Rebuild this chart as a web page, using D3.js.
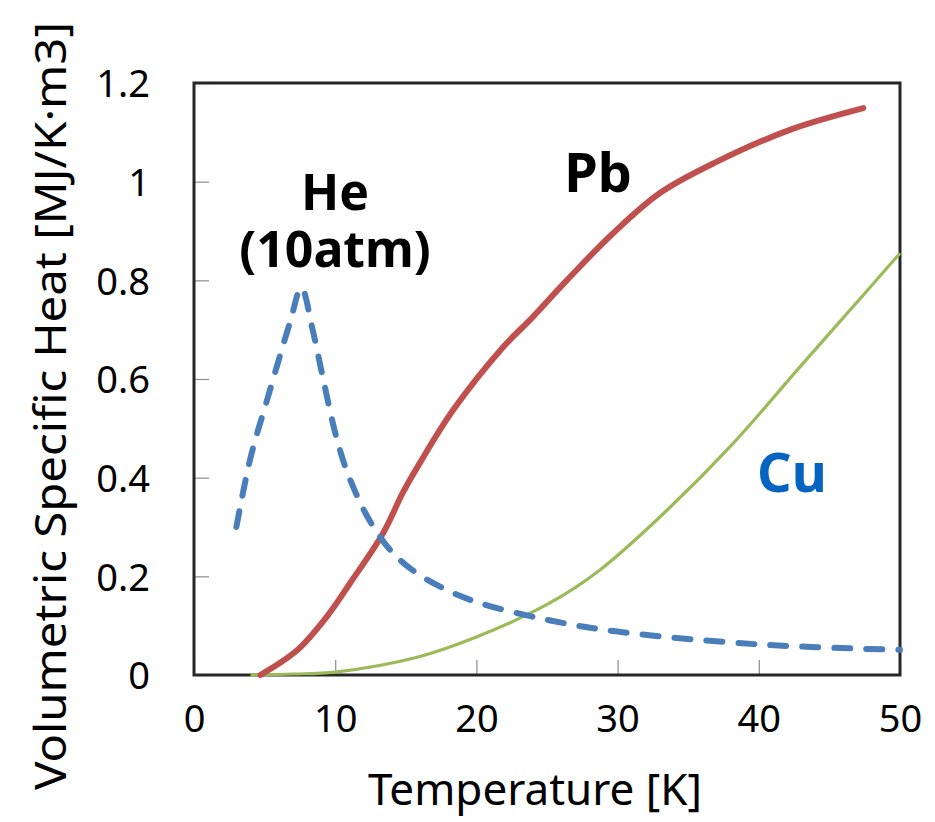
<!DOCTYPE html>
<html>
<head>
<meta charset="utf-8">
<script src="https://cdn.jsdelivr.net/npm/d3@7"></script>
<style>
  body { margin: 0; background: #fff; }
  text { font-family: "Noto Sans", "Open Sans", sans-serif; }
</style>
</head>
<body>
<div class="canvas"></div>
<script>
// values
const heT = [3.0, 4.0, 5.2, 6.8, 7.6, 8.4, 9.15, 10.1, 11.0, 12.5, 14.0, 15.5, 17.5, 20, 25, 30, 40, 50];
const heV = [0.30, 0.44, 0.56, 0.715, 0.785, 0.70, 0.60, 0.48, 0.40, 0.31, 0.25, 0.212, 0.178, 0.148, 0.112, 0.088, 0.062, 0.051];

const pbT = [4.7, 7.3, 9.4, 11.05, 13.4, 14.8, 16, 18.35, 21.9, 23.8, 26.4, 29.7, 33, 37, 42.2, 47.4];
const pbV = [0, 0.05, 0.118, 0.186, 0.288, 0.37, 0.43, 0.537, 0.665, 0.72, 0.80, 0.896, 0.977, 1.04, 1.105, 1.149];

const cuT = [4, 7, 10, 15.8, 20, 25.2, 28.75, 33.5, 38.2, 42.9, 47.7, 50];
const cuV = [0, 0.002, 0.006, 0.036, 0.077, 0.146, 0.213, 0.334, 0.47, 0.624, 0.78, 0.855];

const xTicks = [0, 10, 20, 30, 40, 50];
const yTicks = [0, 0.2, 0.4, 0.6, 0.8, 1, 1.2];

const width = 935;
const height = 822;
const margin = {left: 194, top: 83, right: 35, bottom: 147};

const svg = d3.select('.canvas')
    .append('svg')
    .attr('width', width)
    .attr('height', height);

const x = d3.scaleLinear().domain([0, 50]).range([margin.left, width - margin.right]);
const y = d3.scaleLinear().domain([0, 1.2]).range([height - margin.bottom, margin.top]);

//////// AXES ////////
const xAxis = d3.axisBottom(x).tickValues(xTicks).tickSize(-15).tickPadding(30).tickFormat(d => d);
const yAxis = d3.axisLeft(y).tickValues(yTicks).tickSize(-15).tickPadding(44).tickFormat(d => d);

const gx = svg.append('g')
    .attr('transform', `translate(0, ${y(0)})`)
    .call(xAxis);
const gy = svg.append('g')
    .attr('transform', `translate(${x(0)}, 0)`)
    .call(yAxis);

[gx, gy].forEach(g => {
    g.select('.domain').remove();
    g.selectAll('line').attr('stroke', '#8c8c8c').attr('stroke-width', 1.2);
    g.selectAll('text')
        .attr('fill', '#000')
        .style('font-size', '38px');
});
gy.selectAll('text').attr('dy', '0.36em');

// frame
svg.append('rect')
    .attr('x', x(0))
    .attr('y', y(1.2))
    .attr('width', x(50) - x(0))
    .attr('height', y(0) - y(1.2))
    .attr('fill', 'none')
    .attr('stroke', '#262626')
    .attr('stroke-width', 3);

//////// LINES ////////
const line = d3.line()
    .x(d => x(d[0]))
    .y(d => y(d[1]))
    .curve(d3.curveCatmullRom.alpha(0.5));

svg.append('path')
    .datum(cuT.map((t, i) => [t, cuV[i]]))
    .attr('d', line)
    .attr('fill', 'none')
    .attr('stroke', '#9bbb59')
    .attr('stroke-width', 3.2);

svg.append('path')
    .datum(pbT.map((t, i) => [t, pbV[i]]))
    .attr('d', line)
    .attr('fill', 'none')
    .attr('stroke', '#c0504d')
    .attr('stroke-width', 6)
    .attr('stroke-linecap', 'round');

svg.append('path')
    .datum(heT.map((t, i) => [t, heV[i]]))
    .attr('d', line)
    .attr('fill', 'none')
    .attr('stroke', '#4a7ebb')
    .attr('stroke-width', 6)
    .attr('stroke-linecap', 'round')
    .attr('stroke-dasharray', '16,16');

//////// LABELS ////////
const heLabel = svg.append('text')
    .attr('text-anchor', 'middle')
    .style('font-size', '50px').style('font-weight', 'bold');
heLabel.append('tspan').attr('x', 335).attr('y', 210).text('He');
heLabel.append('tspan').attr('x', 335).attr('y', 267).text('(10atm)');

svg.append('text')
    .attr('x', 598).attr('y', 192)
    .attr('text-anchor', 'middle')
    .style('font-size', '54px').style('font-weight', 'bold')
    .text('Pb');
svg.append('text')
    .attr('x', 792).attr('y', 492)
    .attr('text-anchor', 'middle')
    .attr('fill', '#0563c1')
    .style('font-size', '54px').style('font-weight', 'bold')
    .text('Cu');

svg.append('text')
    .attr('x', 535).attr('y', 805)
    .attr('text-anchor', 'middle')
    .style('font-size', '44px')
    .text('Temperature [K]');

svg.append('text')
    .attr('transform', 'translate(66, 406) rotate(-90)')
    .attr('text-anchor', 'middle')
    .attr('textLength', 768)
    .attr('lengthAdjust', 'spacingAndGlyphs')
    .style('font-size', '44px')
    .text('Volumetric Specific Heat [MJ/K·m3]');
</script>
</body>
</html>
